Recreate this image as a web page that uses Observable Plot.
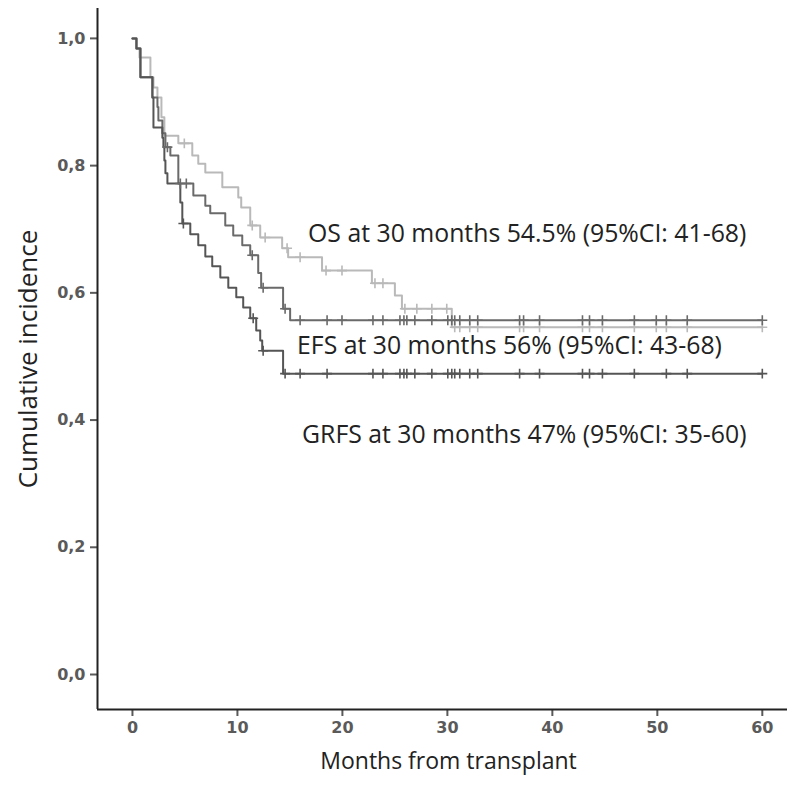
<!DOCTYPE html>
<html><head><meta charset="utf-8">
<script src="https://cdn.jsdelivr.net/npm/d3@7"></script>
<script src="https://cdn.jsdelivr.net/npm/@observablehq/plot@0.6"></script>
<style>
body{margin:0;background:#fff;}
</style>
</head><body><div id="chart"></div>
<script>
// ---- data (months, survival probability) ----
const osTime = [0, 0.38, 0.67, 1.71, 2.00, 2.38, 2.76, 3.04, 4.37, 5.70, 6.27, 6.94, 8.56, 10.08, 10.36, 11.22, 12.17, 14.26, 14.83, 18.06, 22.81, 25.00, 25.67, 30.42];
const osSurv = [1, 0.984, 0.970, 0.939, 0.923, 0.907, 0.876, 0.847, 0.835, 0.816, 0.803, 0.789, 0.766, 0.750, 0.734, 0.706, 0.687, 0.670, 0.656, 0.635, 0.615, 0.596, 0.575, 0.546];
const osCensor = [4.94, 11.41, 12.64, 14.73, 15.97, 18.44, 19.96, 23.10, 23.86, 25.95, 27.09, 28.52, 29.94, 30.70, 31.18, 32.13, 32.89, 36.88, 37.26, 38.78, 42.87, 43.54, 44.77, 47.81, 49.90, 50.86, 52.85, 60];

const efsTime = [0, 0.38, 0.76, 1.90, 2.38, 2.47, 2.85, 3.14, 3.61, 4.37, 5.80, 6.94, 7.41, 8.84, 9.60, 10.46, 11.22, 11.98, 12.26, 14.35, 15.02];
const efsSurv = [1, 0.984, 0.939, 0.907, 0.892, 0.871, 0.851, 0.829, 0.816, 0.772, 0.753, 0.737, 0.725, 0.706, 0.690, 0.675, 0.659, 0.631, 0.608, 0.575, 0.557];
const efsCensor = [3.33, 4.56, 5.13, 11.41, 12.45, 14.54, 15.97, 18.54, 19.96, 22.91, 23.86, 25.48, 25.86, 26.14, 26.90, 28.52, 30.04, 30.42, 30.70, 31.18, 32.13, 32.89, 36.88, 37.26, 38.78, 42.87, 43.54, 44.77, 47.81, 49.90, 50.86, 52.85, 60];

const grfsTime = [0, 0.38, 0.76, 1.90, 2.00, 2.85, 2.95, 3.04, 3.14, 3.33, 4.56, 4.75, 5.51, 6.27, 6.94, 7.60, 8.37, 9.13, 9.89, 10.55, 11.22, 11.79, 12.17, 12.36, 14.35];
const grfsSurv = [1, 0.984, 0.939, 0.907, 0.860, 0.844, 0.829, 0.808, 0.788, 0.772, 0.742, 0.709, 0.692, 0.675, 0.657, 0.642, 0.624, 0.608, 0.593, 0.577, 0.560, 0.541, 0.525, 0.509, 0.473];
const grfsCensor = [4.85, 11.50, 12.45, 14.54, 15.97, 18.54, 22.91, 23.86, 25.48, 25.86, 26.14, 26.90, 28.52, 30.04, 30.42, 30.70, 31.18, 32.13, 32.89, 36.88, 38.78, 42.87, 43.54, 44.77, 47.81, 50.86, 52.85, 60];

const seriesNames = ["OS", "EFS", "GRFS"];
const seriesColors = ["#b9b9b9", "#6a6a6a", "#555555"];

const annotationLabels = ["OS at 30 months 54.5% (95%CI: 41-68)", "EFS at 30 months 56% (95%CI: 43-68)", "GRFS at 30 months 47% (95%CI: 35-60)"];
const annotationX = [16.73, 15.68, 16.16];
const annotationY = [0.692, 0.517, 0.376];

const xTicks = [0, 10, 20, 30, 40, 50, 60];
const yTicks = [0, 0.2, 0.4, 0.6, 0.8, 1.0];
const xTitle = "Months from transplant";
const yTitle = "Cumulative incidence";
const xDomain = [-3.33, 62.4];
const yDomain = [-0.055, 1.047];

// ---- build ----
function stepValue(times, surv, t) {
  let v = surv[0];
  for (let i = 0; i < times.length; i++) if (times[i] <= t) v = surv[i];
  return v;
}
function build(name, times, surv, censor) {
  const end = Math.max(...censor);
  const pts = times.map((t, i) => ({series: name, t, s: surv[i]}));
  pts.push({series: name, t: end, s: surv[surv.length - 1]});
  const cens = censor.map(t => ({series: name, t, s: stepValue(times, surv, t)}));
  return {pts, cens};
}
const sets = [
  build("OS", osTime, osSurv, osCensor),
  build("EFS", efsTime, efsSurv, efsCensor),
  build("GRFS", grfsTime, grfsSurv, grfsCensor)
];
const linePts = sets.flatMap(d => d.pts);
const censPts = sets.flatMap(d => d.cens);
const annotations = annotationLabels.map((label, i) => ({label, x: annotationX[i], y: annotationY[i]}));

const commaFmt = d => d.toFixed(1).replace(".", ",");

const chart = Plot.plot({
  width: 789,
  height: 788,
  marginLeft: 97,
  marginRight: 2,
  marginTop: 8,
  marginBottom: 79,
  style: {fontFamily: "DejaVu Sans", background: "#fff"},
  x: {domain: xDomain},
  y: {domain: yDomain},
  color: {domain: seriesNames, range: seriesColors},
  marks: [
    Plot.axisX(xTicks, {tickSize: 7, tickPadding: 5, fontSize: 16, fontWeight: "bold", color: "#5a5a5a", strokeWidth: 2, label: null, tickFormat: d => String(d)}),
    Plot.axisY(yTicks, {tickSize: 7, tickPadding: 5, fontSize: 16, fontWeight: "bold", color: "#5a5a5a", strokeWidth: 2, label: null, tickFormat: commaFmt}),
    Plot.ruleX([xDomain[0]], {stroke: "#222", strokeWidth: 2}),
    Plot.ruleY([yDomain[0]], {stroke: "#222", strokeWidth: 2}),
    Plot.line(linePts, {x: "t", y: "s", z: "series", stroke: "series", curve: "step-after", strokeWidth: 2}),
    Plot.dot(censPts, {x: "t", y: "s", stroke: "series", symbol: "plus", r: 3.3, strokeWidth: 1.6}),
    Plot.text(annotations, {x: "x", y: "y", text: "label", textAnchor: "start", fontSize: 24.8, fill: "#222", fontFamily: "Open Sans"}),
    Plot.text([yTitle], {frameAnchor: "left", textAnchor: "middle", rotate: -90, dx: -69, fontSize: 26, fill: "#222", fontFamily: "Open Sans"}),
    Plot.text([xTitle], {frameAnchor: "bottom", textAnchor: "middle", dx: 6, dy: 59, fontSize: 23, fill: "#222", fontFamily: "Open Sans"})
  ]
});
document.getElementById("chart").appendChild(chart);
</script>
</body></html>
